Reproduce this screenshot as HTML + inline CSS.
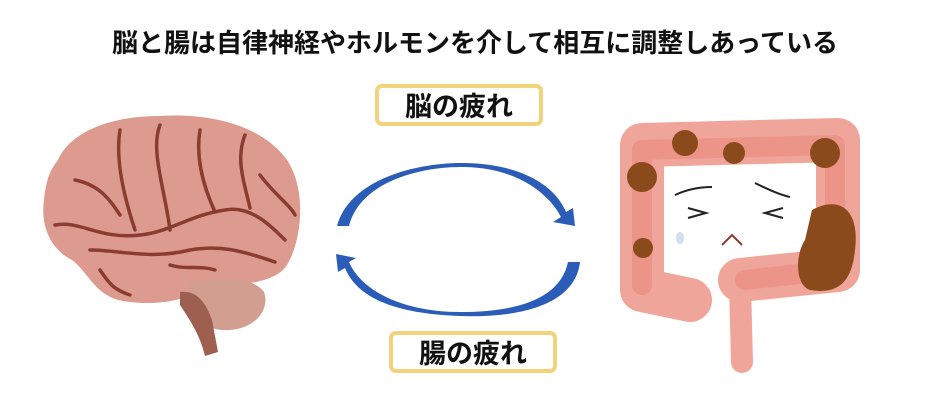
<!DOCTYPE html>
<html><head><meta charset="utf-8"><style>
html,body{margin:0;padding:0;background:#fff;width:950px;height:402px;overflow:hidden}
svg{display:block}
text{font-family:"Liberation Sans","Noto Sans CJK JP",sans-serif;font-weight:bold;fill:#111}
</style></head><body>
<svg width="950" height="402" viewBox="0 0 950 402" xmlns="http://www.w3.org/2000/svg">
<text x="475" y="52" font-size="26" text-anchor="middle">脳と腸は自律神経やホルモンを介して相互に調整しあっている</text>
<rect x="377" y="86" width="164" height="38" rx="5" fill="#fff" stroke="#f2d27a" stroke-width="4"/>
<text x="459" y="116" font-size="27" text-anchor="middle">脳の疲れ</text>
<rect x="391" y="333" width="164" height="38" rx="5" fill="#fff" stroke="#f2d27a" stroke-width="4"/>
<text x="473" y="363" font-size="27" text-anchor="middle">腸の疲れ</text>
<path d="M337,226 C350,178 420,162 465,163 C520,164 555,185 566,212 L573,208 L575,226 L553,222 L561,217 C548,192 515,168 465,167 C420,166 360,182 349,226 Z" fill="#2b5cb8"/>
<path d="M580,262 C575,305 520,318 460,316 C400,314 358,300 345,268 L338,272 L336,254 L356,258 L349,262 C362,292 405,312 460,312 C515,312 560,300 568,262 Z" fill="#2b5cb8"/>
<!-- brain -->
<path d="M58,160 C70,132 110,116 160,116 C210,113 262,125 287,160 C307,190 302,240 287,265 C277,282 240,287 210,284 C190,302 150,307 118,300 C93,292 88,272 72,260 C52,250 40,228 44,200 C46,180 50,170 58,160 Z" fill="#dc9b8e"/>
<path d="M190,283 C215,278 252,275 264,292 C270,308 257,328 230,330 C205,332 192,316 190,300 Z" fill="#d29e90"/>
<path d="M180,292 C195,290 205,300 212,320 L218,352 L205,356 C200,335 190,320 180,305 Z" fill="#9e5f50"/>
<g stroke="#8a3c30" stroke-width="3.5" fill="none" stroke-linecap="round">
<path d="M55,225 C80,220 100,240 140,235 C170,232 190,215 225,210 C250,205 270,225 285,240"/>
<path d="M90,250 C120,250 150,260 190,250 C220,245 240,250 275,262"/>
<path d="M120,130 C115,160 125,200 135,230"/>
<path d="M160,125 C150,150 165,190 170,230"/>
<path d="M200,130 C195,160 205,190 215,212"/>
<path d="M245,135 C235,160 245,185 250,208"/>
<path d="M75,180 C100,185 110,200 120,215"/>
<path d="M260,175 C275,195 290,205 295,215"/>
<path d="M100,270 C110,285 115,290 130,295"/>
<path d="M170,265 C185,270 200,265 215,270"/>
</g>
<!-- colon -->
<g fill="none" stroke="#f0a59a" stroke-linejoin="round" stroke-linecap="round">
<path d="M690,300 L642,290 L642,145 L838,140 L838,270 L740,280" stroke-width="44"/>
<path d="M740,285 L742,362" stroke-width="22"/>
</g>
<g fill="none" stroke="#e9887c" stroke-linejoin="round" stroke-linecap="round" opacity="0.6">
<path d="M642,285 L642,150 L835,145 L835,270 L745,280" stroke-width="20"/>
</g>
<g fill="#8a4a1c">
<circle cx="685" cy="143" r="13"/><circle cx="734" cy="153" r="11"/>
<circle cx="642" cy="177" r="15"/><circle cx="825" cy="153" r="15"/>
<circle cx="643" cy="248" r="10"/>
<path d="M812,210 C840,195 860,210 855,250 C852,280 840,295 810,290 C795,285 795,255 805,240 Z"/>
</g>
<g stroke="#222" stroke-width="2" fill="none">
<path d="M675,195 C690,188 705,187 712,187"/>
<path d="M755,183 C765,188 780,195 790,197"/>
<path d="M688,208 L706,213 L688,218"/>
<path d="M783,208 L765,213 L783,218"/>
<path d="M722,245 L732,235 L742,245" stroke="#8a3c30"/>
</g>
<ellipse cx="680" cy="238" rx="4" ry="6" fill="#cfe0ef"/>
</svg>
</body></html>
